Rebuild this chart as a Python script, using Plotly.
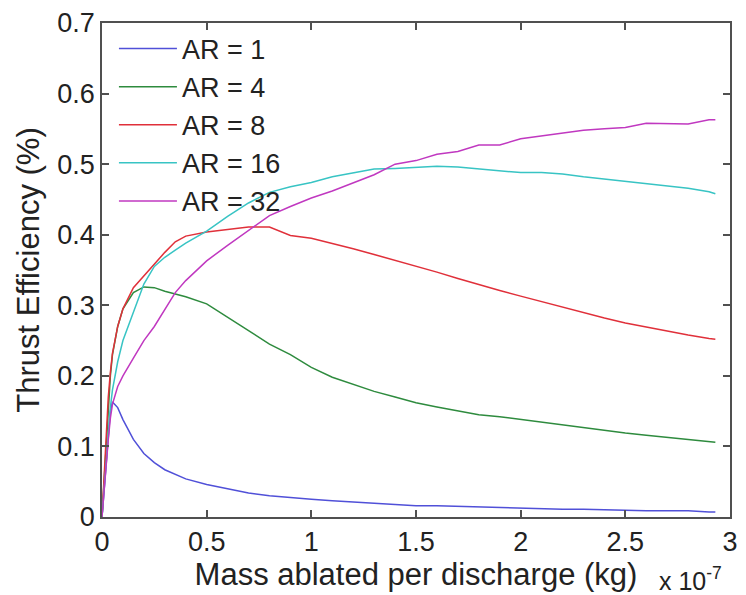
import plotly.graph_objects as go

# x in units of 1e-7 kg
mass_ablated = [0, 0.01, 0.02, 0.03, 0.04, 0.05, 0.075, 0.1, 0.15, 0.2, 0.25, 0.3, 0.35, 0.4,
                0.5, 0.6, 0.7, 0.8, 0.9, 1.0, 1.1, 1.2, 1.3, 1.4, 1.5, 1.6, 1.7, 1.8, 1.9,
                2.0, 2.1, 2.2, 2.3, 2.4, 2.5, 2.6, 2.7, 2.8, 2.9, 2.93]

eff_ar1 = [0, 0.04, 0.08, 0.12, 0.15, 0.163, 0.155, 0.138, 0.11, 0.09, 0.077, 0.067, 0.06, 0.054,
           0.046, 0.04, 0.034, 0.03, 0.027, 0.025, 0.023, 0.021, 0.019, 0.017, 0.016, 0.016, 0.015,
           0.014, 0.013, 0.013, 0.012, 0.011, 0.011, 0.010, 0.010, 0.009, 0.009, 0.009, 0.007, 0.007]

eff_ar4 = [0, 0.05, 0.11, 0.16, 0.20, 0.23, 0.27, 0.295, 0.318, 0.326, 0.325, 0.32, 0.316, 0.312,
           0.302, 0.283, 0.263, 0.245, 0.23, 0.212, 0.198, 0.188, 0.178, 0.17, 0.162, 0.156, 0.15,
           0.145, 0.142, 0.138, 0.134, 0.13, 0.126, 0.122, 0.119, 0.116, 0.113, 0.11, 0.107, 0.106]

eff_ar8 = [0, 0.06, 0.12, 0.17, 0.205, 0.232, 0.27, 0.295, 0.325, 0.342, 0.358, 0.375, 0.39, 0.398,
           0.404, 0.407, 0.411, 0.411, 0.399, 0.395, 0.388, 0.38, 0.372, 0.364, 0.355, 0.347, 0.338,
           0.329, 0.321, 0.313, 0.305, 0.298, 0.29, 0.282, 0.275, 0.269, 0.263, 0.258, 0.253, 0.252]

eff_ar16 = [0, 0.04, 0.08, 0.12, 0.155, 0.18, 0.22, 0.25, 0.29, 0.33, 0.355, 0.368, 0.378, 0.388,
            0.405, 0.426, 0.445, 0.46, 0.468, 0.474, 0.482, 0.488, 0.493, 0.494, 0.495, 0.497, 0.496,
            0.493, 0.49, 0.488, 0.488, 0.486, 0.482, 0.479, 0.476, 0.472, 0.469, 0.466, 0.461, 0.458]

eff_ar32 = [0, 0.04, 0.08, 0.11, 0.14, 0.16, 0.185, 0.2, 0.225, 0.25, 0.27, 0.295, 0.318, 0.335,
            0.363, 0.385, 0.406, 0.427, 0.44, 0.452, 0.462, 0.473, 0.485, 0.5, 0.505, 0.514, 0.518,
            0.527, 0.527, 0.536, 0.54, 0.544, 0.548, 0.55, 0.552, 0.558, 0.558, 0.557, 0.563, 0.563]

series_names = ["AR = 1", "AR = 4", "AR = 8", "AR = 16", "AR = 32"]
series_values = [eff_ar1, eff_ar4, eff_ar8, eff_ar16, eff_ar32]
series_colors = ["#5050d8", "#2e8b3e", "#e0303a", "#38c4c4", "#c038c0"]

x_tickvals = [0, 0.5, 1, 1.5, 2, 2.5, 3]
x_ticktext = ["0", "0.5", "1", "1.5", "2", "2.5", "3"]
y_tickvals = [0, 0.1, 0.2, 0.3, 0.4, 0.5, 0.6, 0.7]
y_ticktext = ["0", "0.1", "0.2", "0.3", "0.4", "0.5", "0.6", "0.7"]

FONT = "Liberation Sans, Arial, sans-serif"

fig = go.Figure()
for name, vals, col in zip(series_names, series_values, series_colors):
    fig.add_trace(go.Scatter(x=mass_ablated, y=vals, mode="lines", name=name,
                             line=dict(color=col, width=1.5)))

axis_common = dict(showline=True, linecolor="#505050", linewidth=1.5, mirror="ticks",
                   ticks="inside", ticklen=7, tickcolor="#505050", tickwidth=1.5,
                   showgrid=False, zeroline=False,
                   tickfont=dict(family=FONT, size=27, color="#222"))

fig.update_layout(
    width=746, height=595,
    margin=dict(l=102, r=8, t=23, b=78),
    paper_bgcolor="white", plot_bgcolor="white",
    font=dict(family=FONT, color="#222"),
    xaxis=dict(range=[0, 3], tickvals=x_tickvals, ticktext=x_ticktext,
               title=dict(text="Mass ablated per discharge (kg)",
                          font=dict(family=FONT, size=31, color="#222"), standoff=2),
               **axis_common),
    yaxis=dict(range=[0, 0.7], tickvals=y_tickvals, ticktext=y_ticktext,
               title=dict(text="Thrust Efficiency (%)",
                          font=dict(family=FONT, size=31, color="#222"), standoff=8),
               **axis_common),
    legend=dict(x=0.019, y=0.997, xanchor="left", yanchor="top",
                bgcolor="rgba(0,0,0,0)", borderwidth=0,
                font=dict(family=FONT, size=27, color="#222"),
                itemwidth=58, tracegroupgap=0),
    showlegend=True,
)

fig.add_annotation(text="x 10<sup>-7</sup>", xref="paper", yref="paper",
                   x=0.99, y=-0.125, xanchor="right", yanchor="middle",
                   showarrow=False, font=dict(family=FONT, size=25, color="#222"))

fig.write_html("out.html")
